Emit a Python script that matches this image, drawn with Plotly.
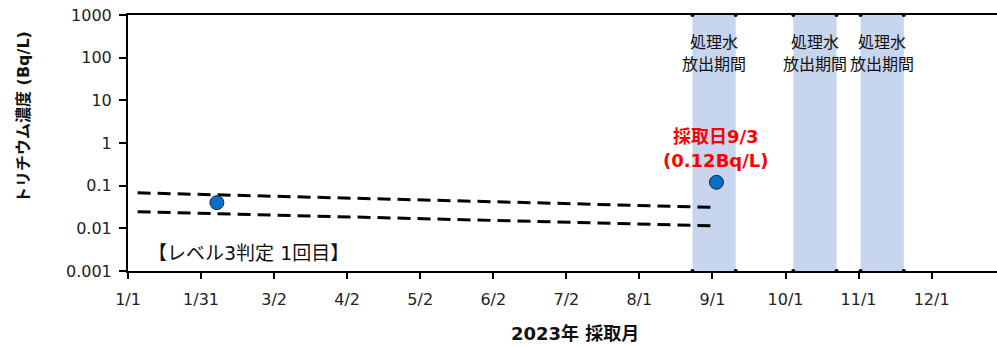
import pandas as pd
import plotly.graph_objects as go

# --- data -------------------------------------------------------------
sample_dates = ["2023-02-07", "2023-09-03"]
tritium_bq_l = [0.04, 0.12]

trend_dates = ["2023-01-05", "2023-09-03"]
upper_trend = [0.068, 0.031]
lower_trend = [0.0245, 0.0114]

discharge_starts = ["2023-08-24", "2023-10-05", "2023-11-02"]
discharge_ends = ["2023-09-11", "2023-10-23", "2023-11-20"]
discharge_label = ["処理水", "放出期間"]

x_tick_labels = ["1/1", "1/31", "3/2", "4/2", "5/2", "6/2", "7/2", "8/1",
                 "9/1", "10/1", "11/1", "12/1"]
y_tick_values = [0.001, 0.01, 0.1, 1, 10, 100, 1000]
y_tick_labels = ["0.001", "0.01", "0.1", "1", "10", "100", "1000"]

# --- layout helpers ---------------------------------------------------
FONT = "DejaVu Sans, Noto Sans CJK JP, sans-serif"
W, H = 997, 346
M_L, M_R, M_T, M_B = 128, 0, 15, 75
PLOT_W = W - M_L - M_R
PLOT_H = H - M_T - M_B

year_start = pd.Timestamp("2023-01-01")
x_ticks = [year_start + pd.Timedelta(days=365 / 12 * k) for k in range(len(x_tick_labels))]
x_end = year_start + pd.Timedelta(days=361.8)


def py(row):
    """pixel row -> paper fraction"""
    return (H - M_B - row) / PLOT_H


def px(col):
    """pixel column -> paper fraction"""
    return (col - M_L) / PLOT_W


fig = go.Figure()

# discharge periods (shaded bands)
for s, e in zip(discharge_starts, discharge_ends):
    fig.add_shape(type="rect", xref="x", yref="paper", x0=s, x1=e, y0=0, y1=1,
                  fillcolor="#c8d5ee", line_width=0, layer="below")

# small marks at the band edges on the top and bottom frame lines
edge_x = [d for pair in zip(discharge_starts, discharge_ends) for d in pair]
for yv in (1000, 0.001):
    fig.add_trace(go.Scatter(x=edge_x, y=[yv] * len(edge_x), mode="markers",
                             marker=dict(size=4, color="black"),
                             cliponaxis=False, showlegend=False, hoverinfo="skip"))

# trend lines
for ys in (upper_trend, lower_trend):
    fig.add_trace(go.Scatter(x=trend_dates, y=ys, mode="lines",
                             line=dict(color="black", width=3, dash="13px,7px"),
                             showlegend=False, hoverinfo="skip"))

# measured values
fig.add_trace(go.Scatter(x=sample_dates, y=tritium_bq_l, mode="markers",
                         marker=dict(size=14, color="#0a6fc6",
                                     line=dict(color="#1a2a4a", width=1)),
                         showlegend=False))

# band labels
for s, e in zip(discharge_starts, discharge_ends):
    mid = pd.Timestamp(s) + (pd.Timestamp(e) - pd.Timestamp(s)) / 2
    for txt, row in zip(discharge_label, [42, 64]):
        fig.add_annotation(x=mid, y=py(row), xref="x", yref="paper",
                           xanchor="center", yanchor="middle",
                           text=txt, showarrow=False,
                           font=dict(size=16, color="#111", family=FONT))

# latest sample callout
last_date, last_val = sample_dates[-1], tritium_bq_l[-1]
callout = [f"採取日{pd.Timestamp(last_date).month}/{pd.Timestamp(last_date).day}",
           f"({last_val}Bq/L)"]
for txt, row in zip(callout, [136, 160]):
    fig.add_annotation(x=last_date, y=py(row), xref="x", yref="paper",
                       xanchor="center", yanchor="middle",
                       text=f"<b>{txt}</b>", showarrow=False,
                       font=dict(size=18, color="#ff0000", family=FONT))

# judgement note
fig.add_annotation(x=px(146), y=py(253), xref="paper", yref="paper",
                   xanchor="left", yanchor="middle",
                   text="【レベル3判定 1回目】", showarrow=False,
                   font=dict(size=19, color="#111", family=FONT))

# axis titles
fig.add_annotation(x=px(23), y=py(117), xref="paper", yref="paper",
                   xanchor="center", yanchor="middle",
                   text="<b>トリチウム濃度 (Bq/L)</b>", textangle=-90, showarrow=False,
                   font=dict(size=16, color="#111", family=FONT))
fig.add_annotation(x=px(575), y=py(333), xref="paper", yref="paper",
                   xanchor="center", yanchor="middle",
                   text="<b>2023年 採取月</b>", showarrow=False,
                   font=dict(size=18, color="#111", family=FONT))

fig.update_layout(
    width=W, height=H,
    margin=dict(l=M_L, r=M_R, t=M_T, b=M_B),
    paper_bgcolor="white", plot_bgcolor="white",
    font=dict(family=FONT, size=16, color="#222"),
    showlegend=False,
)
fig.update_xaxes(
    type="date", range=[year_start, x_end],
    tickmode="array", tickvals=x_ticks, ticktext=x_tick_labels,
    showgrid=False, zeroline=False,
    showline=True, linecolor="black", linewidth=2, mirror=True,
    ticks="outside", ticklen=6, tickwidth=1.5, tickcolor="black",
    ticklabelstandoff=7,
)
fig.update_yaxes(
    type="log", range=[-3, 3],
    tickmode="array", tickvals=y_tick_values, ticktext=y_tick_labels,
    showgrid=False, zeroline=False,
    showline=True, linecolor="black", linewidth=2,
    ticks="outside", ticklen=7, tickwidth=1.5, tickcolor="black",
    ticklabelstandoff=4,
)

fig.write_html("out.html")
